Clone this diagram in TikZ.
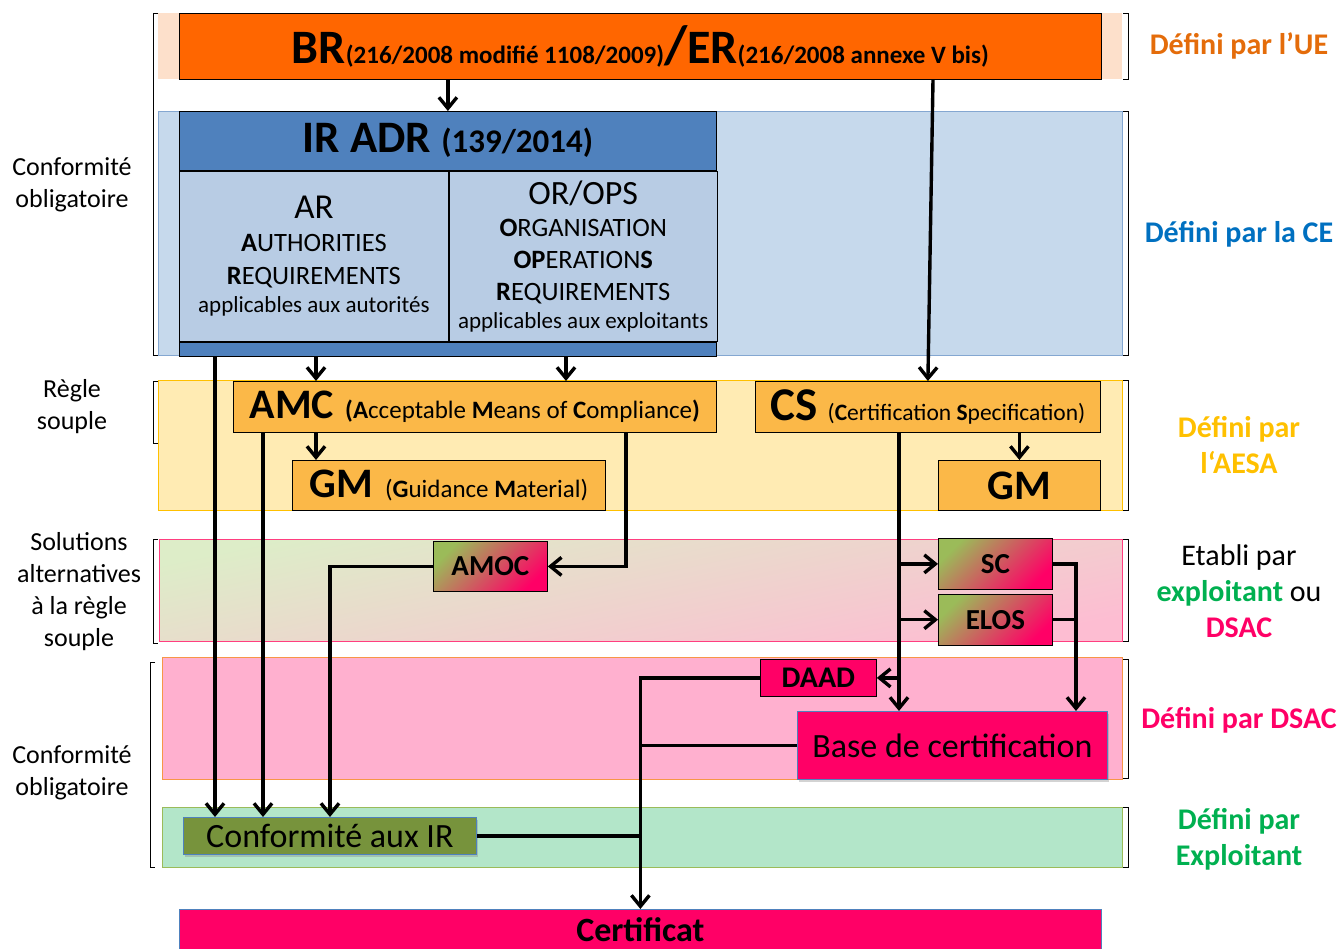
\documentclass[tikz,border=0pt]{standalone}
\usepackage{fontspec}
\setmainfont{Carlito}
\usetikzlibrary{positioning, calc, arrows.meta, shadows}

\definecolor{ueorange}{HTML}{FF6600}
\definecolor{uepeach}{HTML}{FDE0CB}
\definecolor{uetext}{HTML}{E46C0A}
\definecolor{ceband}{HTML}{C6D9EC}
\definecolor{cedark}{HTML}{4F81BD}
\definecolor{cecell}{HTML}{B8CCE4}
\definecolor{cetext}{HTML}{0070C0}
\definecolor{aesaband}{HTML}{FFEBB3}
\definecolor{aesabox}{HTML}{FBB848}
\definecolor{aesatext}{HTML}{FFC000}
\definecolor{altgreen}{HTML}{DDEDC8}
\definecolor{altpink}{HTML}{FDBDD2}
\definecolor{altline}{HTML}{FF3E80}
\definecolor{solgreen}{HTML}{9BBB59}
\definecolor{dsacpink}{HTML}{FF0066}
\definecolor{dsacband}{HTML}{FFB0CF}
\definecolor{dsacline}{HTML}{F79646}
\definecolor{expband}{HTML}{B3E6C9}
\definecolor{expline}{HTML}{9BBB59}
\definecolor{expbox}{HTML}{77933C}
\definecolor{exptext}{HTML}{00B050}

\begin{document}
\begin{tikzpicture}[x=1pt, y=-1pt, thick]
        % Define block styles
        \tikzstyle{block} = [rectangle, draw=black, line width=0.8pt, anchor=north west, inner sep=0pt, align=center]
        \tikzstyle{band} = [line width=0.8pt]
        \tikzstyle{bracket} = [line width=0.8pt]
        \tikzstyle{arr} = [line width=3.4pt, -{Straight Barb[length=11pt, width=18pt]}]
        \tikzstyle{link} = [line width=3.4pt]
        \tikzstyle{side} = [align=center, font=\fontsize{26}{32}\selectfont]
        \tikzstyle{owner} = [align=center, font=\fontsize{30}{36}\selectfont\bfseries]
        \tikzstyle{sol} = [block, top color=solgreen, bottom color=dsacpink, shading angle=45, font=\fontsize{29}{32}\selectfont\bfseries]
        \tikzstyle{shadowed} = [drop shadow={opacity=0.35, shadow xshift=2pt, shadow yshift=-3pt}]

        \useasboundingbox (0,0) rectangle (1341,949);

        % Background bands
        \fill [uepeach] (158,13) rectangle (1122,79);
        \filldraw [band, fill=ceband, draw=cedark!70] (158,111) rectangle (1122,355);
        \filldraw [band, fill=aesaband, draw=aesatext] (158,380) rectangle (1122,510);
        \shadedraw [band, top color=altgreen, bottom color=altpink, shading angle=12, draw=altline] (159,539) rectangle (1122,641);
        \filldraw [band, fill=dsacband, draw=dsacline] (162,657) rectangle (1122,779);
        \filldraw [band, fill=expband, draw=expline] (162,807) rectangle (1122,867);

        % Brackets
        \draw [bracket] (158,13) -- (153,13) -- (153,355) -- (158,355);
        \draw [bracket] (158,381) -- (153,381) -- (153,443) -- (158,443);
        \draw [bracket] (158,539) -- (153,539) -- (153,643) -- (158,643);
        \draw [bracket] (155,662) -- (150,662) -- (150,867) -- (155,867);
        \draw [bracket] (1123,13) -- (1128,13) -- (1128,79) -- (1123,79);
        \draw [bracket] (1123,111) -- (1128,111) -- (1128,355) -- (1123,355);
        \draw [bracket] (1123,380) -- (1128,380) -- (1128,510) -- (1123,510);
        \draw [bracket] (1123,539) -- (1128,539) -- (1128,641) -- (1123,641);
        \draw [bracket] (1123,659) -- (1128,659) -- (1128,778) -- (1123,778);
        \draw [bracket] (1123,807) -- (1128,807) -- (1128,867) -- (1123,867);

        % Place nodes
        \node [block, fill=ueorange, minimum width=922pt, minimum height=66pt] (br) at (179,13)
          {\bfseries{\fontsize{48}{50}\selectfont BR}{\fontsize{25}{28}\selectfont(216/2008 modifié 1108/2009)}{\fontsize{54}{54}\selectfont/}{\fontsize{48}{50}\selectfont ER}{\fontsize{25}{28}\selectfont(216/2008 annexe V bis)}};

        \node [block, fill=cedark, minimum width=537pt, minimum height=59pt] (irhead) at (179,111)
          {\fontsize{45}{46}\selectfont\bfseries IR ADR {\fontsize{33}{34}\selectfont (139/2014)}};
        \node [block, fill=cecell, minimum width=269pt, minimum height=170pt, font=\fontsize{26.5}{33}\selectfont] (ar) at (irhead.south west)
          {{\fontsize{35}{36}\selectfont AR}\\\textbf{A}UTHORITIES\\\textbf{R}EQUIREMENTS\\[-5pt]{\fontsize{23}{25}\selectfont applicables aux autorités}};
        \node [block, fill=cecell, minimum width=268pt, minimum height=170pt, font=\fontsize{26.5}{32}\selectfont] (orops) at (ar.north east)
          {{\fontsize{34}{36}\selectfont OR/OPS}\\\textbf{O}RGANISATION\\\textbf{OP}ERATION\textbf{S}\\\textbf{R}EQUIREMENTS\\[-4pt]{\fontsize{23}{25}\selectfont applicables aux exploitants}};
        \node [block, fill=cedark, minimum width=537pt, minimum height=14pt] (irfoot) at (ar.south west) {};

        \node [block, fill=aesabox, minimum width=483pt, minimum height=51pt] (amc) at (233,381)
          {{\fontsize{42}{44}\selectfont\bfseries AMC}\hspace{11pt}{\fontsize{25}{28}\selectfont\textbf{(A}cceptable \textbf{M}eans of \textbf{C}ompliance\textbf{)}}};
        \node [block, fill=aesabox, minimum width=313pt, minimum height=50pt] (gm) at (292,460)
          {{\fontsize{42}{44}\selectfont\bfseries GM}\hspace{12pt}{\fontsize{25}{28}\selectfont(\textbf{G}uidance \textbf{M}aterial)}};
        \node [block, fill=aesabox, minimum width=345pt, minimum height=51pt] (cs) at (755,381)
          {{\fontsize{47}{48}\selectfont\bfseries CS}\hspace{10pt}{\fontsize{23.5}{26}\selectfont(\textbf{C}ertification \textbf{S}pecification)}};
        \node [block, fill=aesabox, minimum width=162pt, minimum height=50pt, font=\fontsize{42}{44}\selectfont\bfseries] (gmr) at (938,460) {GM};

        \node [sol, minimum width=114pt, minimum height=50pt] (amoc) at (433,541) {AMOC};
        \node [sol, minimum width=114pt, minimum height=51pt] (sc) at (938,538) {SC};
        \node [sol, minimum width=114pt, minimum height=51pt, below=4pt of sc] (elos) {ELOS};

        \node [block, fill=dsacpink, minimum width=116pt, minimum height=37pt, font=\fontsize{30}{32}\selectfont\bfseries] (daad) at (760,659) {DAAD};
        \node [block, shadowed, fill=dsacpink, draw=cedark, minimum width=310pt, minimum height=68pt, font=\fontsize{34}{36}\selectfont] (base) at (797,711) {Base de certification};
        \node [block, shadowed, fill=expbox, draw=cedark, minimum width=293pt, minimum height=37pt, font=\fontsize{34}{36}\selectfont] (conf) at (183,817) {Conformité aux IR};
        \node [block, fill=dsacpink, draw=cedark, minimum width=922pt, minimum height=40pt, font=\fontsize{34}{36}\selectfont\bfseries] (cert) at (179,909) {Certificat};

        % Side labels
        \node [side] (lcompl) at (72,185) {Conformité\\obligatoire};
        \node [side] (lsouple) at (72,407) {Règle\\souple};
        \node [side] (lalt) at (79,592) {Solutions\\alternatives\\à la règle\\souple};
        \node [side] (loblig) at (72,773) {Conformité\\obligatoire};

        \node [owner, text=uetext] (rue) at (1239,46) {Défini par l’UE};
        \node [owner, text=cetext] (rce) at (1239,234) {Défini par la CE};
        \node [owner, text=aesatext] (raesa) at (1239,445) {Défini par\\l‘AESA};
        \node [align=center, font=\fontsize{30}{36}\selectfont] (retabli) at (1239,591)
          {Etabli par\\\textcolor{exptext}{\textbf{exploitant}} ou\\\textcolor{dsacpink}{\textbf{DSAC}}};
        \node [owner, text=dsacpink] (rdsac) at (1239,720) {Défini par DSAC};
        \node [owner, text=exptext] (rexp) at (1239,839) {Défini par\\Exploitant};

        % Draw connections as arrows
        \draw [arr] (br.south -| irhead.north) -- (irhead.north);
        \draw [arr] (br.south -| 933,0) -- (cs.north);
        \draw [arr] (irfoot.south -| 316,0) -- (amc.north -| 316,0);
        \draw [arr] (irfoot.south -| 566,0) -- (amc.north -| 566,0);
        \draw [arr] (irfoot.south -| 215,0) -- (conf.north -| 215,0);
        \draw [arr] (amc.south -| 263,0) -- (conf.north -| 263,0);
        \draw [arr] (amc.south -| 316,0) -- (gm.north -| 316,0);
        \draw [arr] (amc.south -| 626,0) |- (amoc.east);
        \draw [arr] (amoc.west) -| (conf.north -| 330,0);
        \draw [arr] (cs.south -| gmr.north) -- (gmr.north);
        \draw [arr] (cs.south -| 899,0) -- (base.north -| 899,0);
        \draw [arr] (899,0 |- sc.west) -- (sc.west);
        \draw [arr] (899,0 |- elos.west) -- (elos.west);
        \draw [arr] (899,0 |- daad.east) -- (daad.east);
        \draw [arr] (sc.east) -| (base.north -| 1076,0);
        \draw [link] (elos.east) -- (1076,0 |- elos.east);
        \draw [arr] (daad.west) -| (cert.north);
        \draw [link] (base.west) -- (cert.north |- base.west);
        \draw [link] (conf.east) -- (cert.north |- conf.east);
\end{tikzpicture}
\end{document}
